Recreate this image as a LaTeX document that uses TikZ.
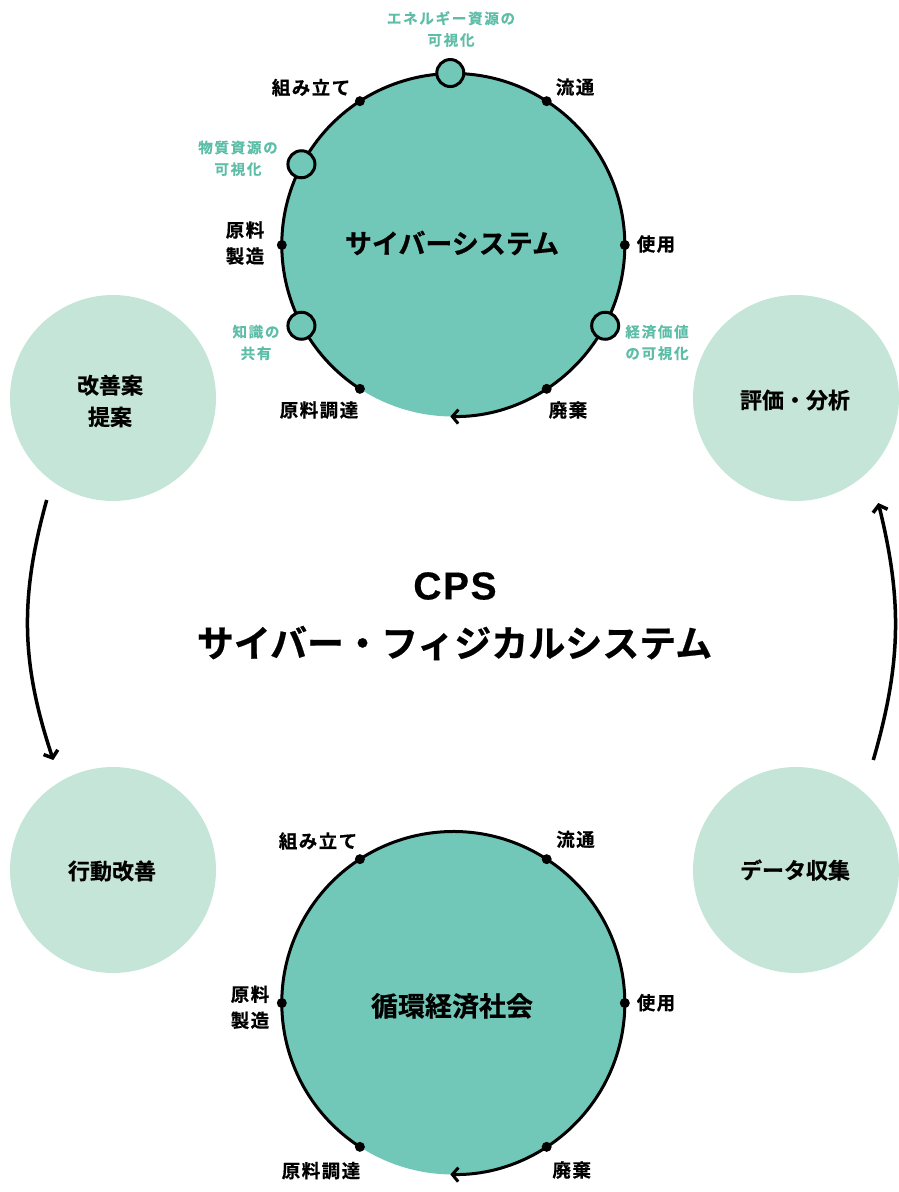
\documentclass[tikz,border=0pt]{standalone}
\usepackage{fontspec}
\setmainfont{Noto Sans CJK JP}[BoldFont={Noto Sans CJK JP Bold}, BoldFeatures={FakeBold=0.6}]
\newfontfamily\latinbold{Liberation Sans}[FakeBold=0.3]
\usetikzlibrary{arrows.meta,calc}
\definecolor{ringteal}{HTML}{72C8B8}
\definecolor{softgreen}{HTML}{C4E5D8}
\definecolor{tealtext}{HTML}{5DBDA7}
\tikzset{
  ring/.style={circle, fill=ringteal, minimum size=343pt, inner sep=0pt, outer sep=0pt},
  ringline/.style={line width=3pt, -{Straight Barb[length=6pt,width=14pt]}},
  dotmark/.style={circle, fill=black, minimum size=10pt, inner sep=0pt, outer sep=0pt},
  hollow/.style={circle, draw=black, fill=ringteal, line width=3pt, minimum size=27pt, inner sep=0pt, outer sep=0pt},
  soft/.style={circle, fill=softgreen, minimum size=206pt, inner sep=0pt, outer sep=0pt},
  lbl/.style={align=center, inner sep=0pt, font=\fontsize{18.5}{26}\selectfont\bfseries\addfontfeature{LetterSpace=8}},
  tlbl/.style={align=center, inner sep=0pt, text=tealtext, font=\fontsize{14.5}{21.6}\selectfont\bfseries\addfontfeature{LetterSpace=12}},
  ringtitle/.style={inner sep=0pt, font=\fontsize{27}{32}\selectfont\bfseries},
  softtitle/.style={align=center, inner sep=0pt, font=\fontsize{22}{31.7}\selectfont\bfseries},
  bigtitle/.style={align=center, inner sep=0pt, font=\fontsize{37}{56}\selectfont\bfseries},
  cpstitle/.style={inner sep=0pt, font=\fontsize{39}{46}\selectfont\latinbold\bfseries\addfontfeature{LetterSpace=4}},
  flow/.style={line width=3.5pt, -{Straight Barb[length=6pt,width=15pt]}}
}
\begin{document}
\begin{tikzpicture}[x=1pt,y=1pt]
\useasboundingbox (0,0) rectangle (899,-1192);

% soft circles
\node[soft] (kaizenan) at (113,-398) {};
\node[softtitle] (kaizenanT) at (110,-401) {改善案\\提案};
\node[soft] (hyouka) at (796,-398) {};
\node[softtitle] (hyoukaT) at (795,-400) {評価・分析};
\node[soft] (koudou) at (113,-870) {};
\node[softtitle] (koudouT) at (112,-871) {行動改善};
\node[soft] (data) at (796,-870) {};
\node[softtitle] (dataT) at (795,-870) {データ収集};

% top ring: cyber system
\node[ring] (cyber) at (453.3,-245) {};
\draw[ringline] (cyber.237) arc[start angle=237, end angle=-91, radius=171.5pt];
\foreach \a/\n in {123/ca, 57/cb, 0/cc, -57/cd, 237/ce, 180/cf}
  \node[dotmark] (\n) at (cyber.\a) {};
\node[hollow] (h1) at ($(cyber.center)+(91:172pt)$) {};
\node[hollow] (h2) at ($(cyber.center)+(152:172pt)$) {};
\node[hollow] (h3) at ($(cyber.center)+(208:172pt)$) {};
\node[hollow] (h4) at ($(cyber.center)+(-28:172pt)$) {};
\node[ringtitle] (cyberT) at (452,-243) {サイバーシステム};

\node[lbl] (t1) at (311,-87.5) {組み立て};
\node[lbl] (t2) at (575,-87) {流通};
\node[lbl] (t3) at (245,-243) {原料\\製造};
\node[lbl] (t4) at (656,-244) {使用};
\node[lbl] (t5) at (319,-410) {原料調達};
\node[lbl] (t6) at (568,-410) {廃棄};

\node[tlbl] (e1) at (451,-29) {エネルギー資源の\\可視化};
\node[tlbl] (e2) at (238,-158.3) {物質資源の\\可視化};
\node[tlbl] (e3) at (256,-342.5) {知識の\\共有};
\node[tlbl] (e4) at (657,-342.5) {経済価値\\の可視化};

% bottom ring: circular economy
\node[ring] (junkan) at (453.3,-1003) {};
\draw[ringline] (junkan.237) arc[start angle=237, end angle=-91, radius=171.5pt];
\foreach \a/\n in {123/ja, 57/jb, 0/jc, -57/jd, 237/je, 180/jf}
  \node[dotmark] (\n) at (junkan.\a) {};
\node[ringtitle] (junkanT) at (452,-1006) {循環経済社会};

\node[lbl] (b1) at (318,-841) {組み立て};
\node[lbl] (b2) at (575.5,-839.3) {流通};
\node[lbl] (b3) at (250,-1007.3) {原料\\製造};
\node[lbl] (b4) at (656,-1002.7) {使用};
\node[lbl] (b5) at (321,-1170.7) {原料調達};
\node[lbl] (b6) at (571.7,-1170) {廃棄};

% central title
\node[cpstitle] (cps) at (455,-586) {CPS};
\node[bigtitle] (cpsjp) at (454.5,-643) {サイバー・フィジカルシステム};

% flow arrows
\coordinate (lstart) at (46.7,-500);
\coordinate (lend) at (53.3,-760);
\coordinate (rstart) at (873.3,-760);
\coordinate (rend) at (878.3,-503);
\draw[flow] (lstart) to[bend right=17] (lend);
\draw[flow] (rstart) to[bend right=15] (rend);
\end{tikzpicture}
\end{document}
